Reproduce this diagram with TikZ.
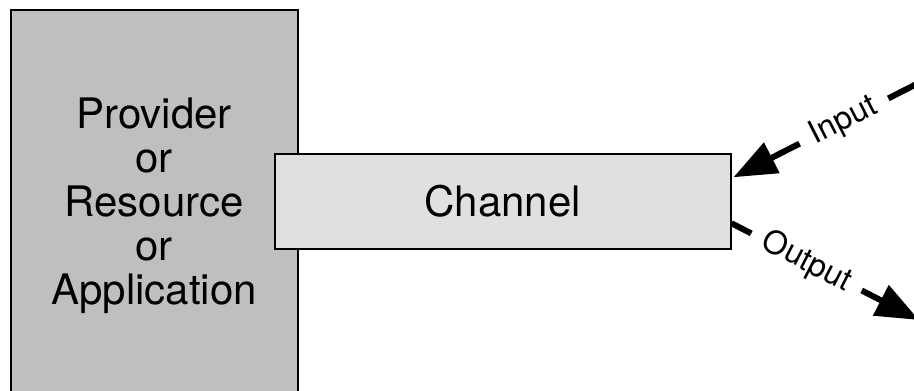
\documentclass[tikz,border=0pt]{standalone}
\usepackage{fontspec}
\setmainfont{TeX Gyre Heros}
\usetikzlibrary{arrows.meta,calc}
\definecolor{provgray}{HTML}{BFBFBF}
\definecolor{changray}{HTML}{E0E0E0}
\begin{document}
\begin{tikzpicture}[x=1pt,y=-1pt,
  block/.style={draw=black, line width=1.5pt, inner sep=0pt, anchor=north west,
                font=\fontsize{42}{44}\selectfont},
  flow/.style={line width=6pt, -{Triangle[length=43pt,width=33pt]}},
  tag/.style={font=\fontsize{32}{34}\selectfont, fill=white,
              inner xsep=14pt, inner ysep=2pt, sloped}]
\useasboundingbox (0,0) rectangle (914,391);
\clip (0,0) rectangle (914,391);
% provider / resource / application block (runs off the bottom)
\node[block, fill=provgray, minimum width=287pt, minimum height=393pt,
      align=center] (prov) at (10,9)
  {Provider\\or\\Resource\\or\\Application};
% channel block, drawn over the provider's right edge
\node[block, fill=changray, minimum width=456pt, minimum height=95pt] (chan) at (274,153) {Channel};
% input and output flows
\coordinate (inSrc) at (950,67);
\coordinate (outDst) at (919,320);
\draw[flow] (inSrc) -- node[tag, pos=0.49] (inLbl) {Input} ($(chan.east)+(2,-24)$);
\draw[flow] ($(chan.east)+(0,22)$) -- node[tag, pos=0.40] (outLbl) {Output} (outDst);
\end{tikzpicture}
\end{document}
